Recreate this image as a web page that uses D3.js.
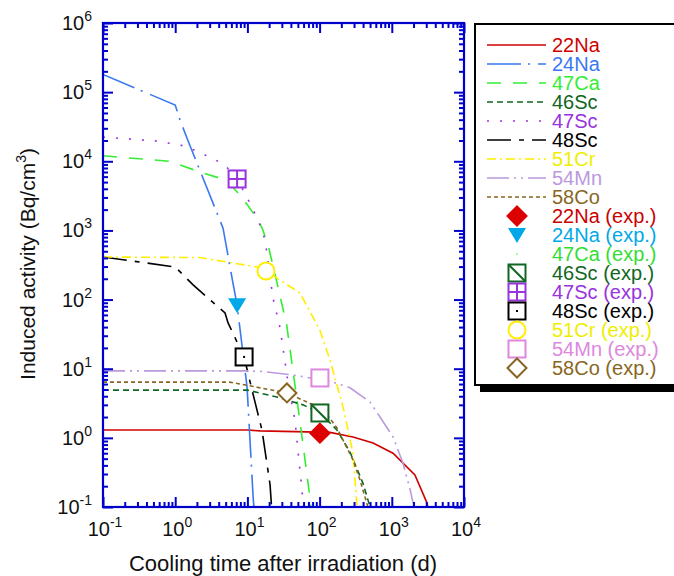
<!DOCTYPE html>
<html>
<head>
<meta charset="utf-8">
<script src="https://cdn.jsdelivr.net/npm/d3@7"></script>
<style>
  body { margin: 0; background: #fff; }
  svg { font-family: "Liberation Sans", Arial, sans-serif; }
</style>
</head>
<body>
<svg id="chart" width="674" height="576"></svg>
<script>
// calculated activity curves, [days, Bq/cm3]
var na22 = [[0.1,1.3],[10,1.3],[15,1.26],[139,1.2],[290,1.03],[550,0.84],[1040,0.6],[2090,0.29],[3080,0.114],[3150,0.1]];
var na24 = [[0.1,1.8e5],[1,6.5e4],[1.16,4e4],[1.5,2e4],[4.6,1080],[6.3,174],[7.2,83],[9.9,5.4],[12,0.14],[12.3,0.1]];
var ca47 = [[0.1,1.2e4],[0.85,1.0e4],[2.2,7000],[5.2,5300],[8.4,3000],[13.6,1500],[16,1080],[19.3,620],[25.7,175],[35,43],[54,1.6],[74,0.13],[76,0.1]];
var sc46 = [[0.1,4.9],[10,4.9],[25.7,3.9],[59,3.0],[101,2.29],[174,1.3],[264,0.62],[399,0.22],[500,0.1]];
var sc47 = [[0.1,2.24e4],[0.56,1.96e4],[1.37,1.66e4],[3.24,1.11e4],[4.9,8800],[7.2,5550],[11.2,2330],[13.6,1510],[16.4,950],[18,615],[22.6,105],[28.2,40],[36.5,6.4],[45.6,1.8],[59,0.12],[60,0.1]];
var sc48 = [[0.1,413],[1,296],[1.77,163],[4.9,64],[5.4,46],[9,14.8],[11.6,4.9],[15.9,1.3],[20.6,0.21],[21.6,0.1]];
var cr51 = [[0.1,413],[2.2,405],[13.6,296],[18.1,259],[28.2,192],[53.6,124],[101,36],[139,13.4],[211,2.8],[290,0.6],[330,0.1]];
var mn54 = [[0.1,9.3],[10,9.3],[16.4,9.1],[43,8.1],[139,6.6],[264,5.3],[499,3.3],[687,2.0],[1040,1.03],[1430,0.43],[1790,0.18],[2030,0.1]];
var co58 = [[0.1,6.4],[5.7,6.4],[13.6,5.4],[35.3,4.46],[59,3.5],[111,2.6],[174,1.39],[290,0.48],[363,0.245],[467,0.1]];

// measured points
var expNames = ['22Na', '24Na', '46Sc', '47Sc', '48Sc', '51Cr', '54Mn', '58Co'];
var expX = [101, 7.2, 101, 7.2, 9.0, 18.1, 101, 35.3];
var expY = [1.17, 83, 2.29, 5550, 14.8, 259, 7.35, 4.46];

var xTicks = [0.1, 1, 10, 100, 1000, 10000];
var yTicks = [0.1, 1, 10, 100, 1000, 1e4, 1e5, 1e6];

var series = [
  {name: '22Na', data: na22, color: '#d00000', dash: null},
  {name: '24Na', data: na24, color: '#3a78f2', dash: '34,7,2,8'},
  {name: '47Ca', data: ca47, color: '#33ee33', dash: '14,12'},
  {name: '46Sc', data: sc46, color: '#116622', dash: '6,4'},
  {name: '47Sc', data: sc47, color: '#9933dd', dash: '2,11'},
  {name: '48Sc', data: sc48, color: '#000000', dash: '24,8,5,8'},
  {name: '51Cr', data: cr51, color: '#ffee00', dash: '9,4,2,4'},
  {name: '54Mn', data: mn54, color: '#bb99dd', dash: '22,5,2,5,2,5'},
  {name: '58Co', data: co58, color: '#886622', dash: '4,3'}
];

var expStyle = {
  '22Na': {color: '#dd0000', text: '#cc0000', shape: 'diamondFill'},
  '24Na': {color: '#00a8e8', text: '#00a8e8', shape: 'triangle'},
  '47Ca': {color: '#33ee33', text: '#33dd33', shape: 'dot'},
  '46Sc': {color: '#116622', text: '#116622', shape: 'squareDiag'},
  '47Sc': {color: '#9933dd', text: '#9933dd', shape: 'squareGrid'},
  '48Sc': {color: '#000000', text: '#000000', shape: 'squareDot'},
  '51Cr': {color: '#ffee00', text: '#eeee00', shape: 'circle'},
  '54Mn': {color: '#dd88dd', text: '#dd88dd', shape: 'square'},
  '58Co': {color: '#886622', text: '#886622', shape: 'diamond'}
};
var legendExp = ['22Na', '24Na', '47Ca', '46Sc', '47Sc', '48Sc', '51Cr', '54Mn', '58Co'];

var svg = d3.select('#chart');
var plotL = 103, plotR = 464, plotT = 23, plotB = 507;
var axisColor = '#0000cc';

var x = d3.scaleLog().domain([0.1, 10000]).range([plotL, plotR]);
var y = d3.scaleLog().domain([0.1, 1e6]).range([plotB, plotT]);

// clip for curves
svg.append('clipPath').attr('id', 'plotclip')
  .append('rect').attr('x', plotL).attr('y', plotT).attr('width', plotR - plotL).attr('height', plotB - plotT);

var line = d3.line().x(d => x(d[0])).y(d => y(d[1]));

svg.append('g').attr('clip-path', 'url(#plotclip)')
  .selectAll('path')
  .data(series)
  .join('path')
  .attr('d', d => line(d.data))
  .attr('fill', 'none')
  .attr('stroke', d => d.color)
  .attr('stroke-width', 1.6)
  .attr('stroke-dasharray', d => d.dash);

function drawMarker(g, shape, color, cx, cy) {
  var s = 8.5;
  if (shape == 'diamondFill' || shape == 'diamond') {
    g.append('path')
      .attr('d', `M${cx},${cy - s - 1}L${cx + s + 1},${cy}L${cx},${cy + s + 1}L${cx - s - 1},${cy}Z`)
      .attr('fill', shape == 'diamondFill' ? color : 'white')
      .attr('stroke', color).attr('stroke-width', 2);
  } else if (shape == 'triangle') {
    g.append('path')
      .attr('d', `M${cx - 9},${cy - 7}L${cx + 9},${cy - 7}L${cx},${cy + 8}Z`)
      .attr('fill', color);
  } else if (shape == 'dot') {
    g.append('circle').attr('cx', cx).attr('cy', cy).attr('r', 0.8).attr('fill', color);
  } else if (shape == 'circle') {
    g.append('circle').attr('cx', cx).attr('cy', cy).attr('r', s).attr('fill', 'white')
      .attr('stroke', color).attr('stroke-width', 2);
  } else {
    g.append('rect').attr('x', cx - s).attr('y', cy - s).attr('width', 2 * s).attr('height', 2 * s)
      .attr('fill', 'white').attr('stroke', color).attr('stroke-width', 2);
    if (shape == 'squareDiag') {
      g.append('line').attr('x1', cx - s).attr('y1', cy - s).attr('x2', cx + s).attr('y2', cy + s)
        .attr('stroke', color).attr('stroke-width', 2);
    } else if (shape == 'squareGrid') {
      g.append('line').attr('x1', cx).attr('y1', cy - s).attr('x2', cx).attr('y2', cy + s)
        .attr('stroke', color).attr('stroke-width', 2);
      g.append('line').attr('x1', cx - s).attr('y1', cy).attr('x2', cx + s).attr('y2', cy)
        .attr('stroke', color).attr('stroke-width', 2);
    } else if (shape == 'squareDot') {
      g.append('rect').attr('x', cx - 1).attr('y', cy - 1).attr('width', 2).attr('height', 2).attr('fill', color);
    }
  }
}

var markers = svg.append('g');
expNames.forEach(function(n, i) {
  drawMarker(markers, expStyle[n].shape, expStyle[n].color, x(expX[i]), y(expY[i]));
});

// axes: inward ticks on all four sides
function minorTicks(scale) {
  var out = [];
  var d = scale.domain();
  for (var e = Math.round(Math.log10(d[0])); e < Math.round(Math.log10(d[1])); e++) {
    for (var k = 2; k <= 9; k++) out.push(k * Math.pow(10, e));
  }
  return out;
}

var axisG = svg.append('g');
axisG.append('g').attr('transform', `translate(0,${plotB})`)
  .call(d3.axisTop(x).tickValues(xTicks).tickSize(10).tickFormat(''));
axisG.append('g').attr('transform', `translate(0,${plotB})`)
  .call(d3.axisTop(x).tickValues(minorTicks(x)).tickSize(5).tickFormat(''));
axisG.append('g').attr('transform', `translate(0,${plotT})`)
  .call(d3.axisBottom(x).tickValues(xTicks).tickSize(10).tickFormat(''));
axisG.append('g').attr('transform', `translate(0,${plotT})`)
  .call(d3.axisBottom(x).tickValues(minorTicks(x)).tickSize(5).tickFormat(''));
axisG.append('g').attr('transform', `translate(${plotL},0)`)
  .call(d3.axisRight(y).tickValues(yTicks).tickSize(10).tickFormat(''));
axisG.append('g').attr('transform', `translate(${plotL},0)`)
  .call(d3.axisRight(y).tickValues(minorTicks(y)).tickSize(5).tickFormat(''));
axisG.append('g').attr('transform', `translate(${plotR},0)`)
  .call(d3.axisLeft(y).tickValues(yTicks).tickSize(10).tickFormat(''));
axisG.append('g').attr('transform', `translate(${plotR},0)`)
  .call(d3.axisLeft(y).tickValues(minorTicks(y)).tickSize(5).tickFormat(''));
axisG.selectAll('.domain').remove();
axisG.selectAll('line').attr('stroke', axisColor).attr('stroke-width', 2);
axisG.append('rect').attr('x', plotL).attr('y', plotT).attr('width', plotR - plotL).attr('height', plotB - plotT)
  .attr('fill', 'none').attr('stroke', axisColor).attr('stroke-width', 2.2);

// tick labels 10^n
function powLabel(sel, v) {
  var e = Math.round(Math.log10(v));
  sel.append('tspan').text('10');
  sel.append('tspan').attr('dy', -9).attr('font-size', 14).text(e);
}
svg.append('g').selectAll('text').data(xTicks).join('text')
  .attr('x', d => x(d) + 2).attr('y', 536).attr('text-anchor', 'middle')
  .attr('font-size', 20).attr('fill', '#111')
  .each(function(d) { powLabel(d3.select(this), d); });
svg.append('g').selectAll('text').data(yTicks).join('text')
  .attr('x', 92).attr('y', d => y(d) + 7).attr('text-anchor', 'end')
  .attr('font-size', 20).attr('fill', '#111')
  .each(function(d) { powLabel(d3.select(this), d); });

svg.append('text').attr('x', 283).attr('y', 571).attr('text-anchor', 'middle')
  .attr('font-size', 22).attr('fill', '#111').text('Cooling time after irradiation (d)');

var yl = svg.append('text').attr('transform', 'translate(35,264) rotate(-90)')
  .attr('text-anchor', 'middle').attr('font-size', 21).attr('fill', '#111');
yl.append('tspan').text('Induced activity (Bq/cm');
yl.append('tspan').attr('dy', -9).attr('font-size', 14).text('3');
yl.append('tspan').attr('dy', 9).text(')');

// legend with drop shadow
var lg = svg.append('g');
lg.append('rect').attr('x', 480).attr('y', 29).attr('width', 220).attr('height', 363).attr('fill', '#000');
lg.append('rect').attr('x', 475).attr('y', 24).attr('width', 220).attr('height', 361)
  .attr('fill', 'white').attr('stroke', '#000').attr('stroke-width', 2);

var rowY = d => 45 + d * 19;
series.forEach(function(s, i) {
  lg.append('line').attr('x1', 487).attr('x2', 546).attr('y1', rowY(i)).attr('y2', rowY(i))
    .attr('stroke', s.color).attr('stroke-width', 1.6).attr('stroke-dasharray', s.dash);
  lg.append('text').attr('x', 552).attr('y', rowY(i) + 7).attr('font-size', 20)
    .attr('fill', s.color == '#ffee00' ? '#eeee00' : s.color).text(s.name);
});
legendExp.forEach(function(n, j) {
  var i = j + series.length;
  drawMarker(lg, expStyle[n].shape, expStyle[n].color, 517, rowY(i));
  lg.append('text').attr('x', 552).attr('y', rowY(i) + 7).attr('font-size', 20)
    .attr('fill', expStyle[n].text).text(n + ' (exp.)');
});
</script>
</body>
</html>
